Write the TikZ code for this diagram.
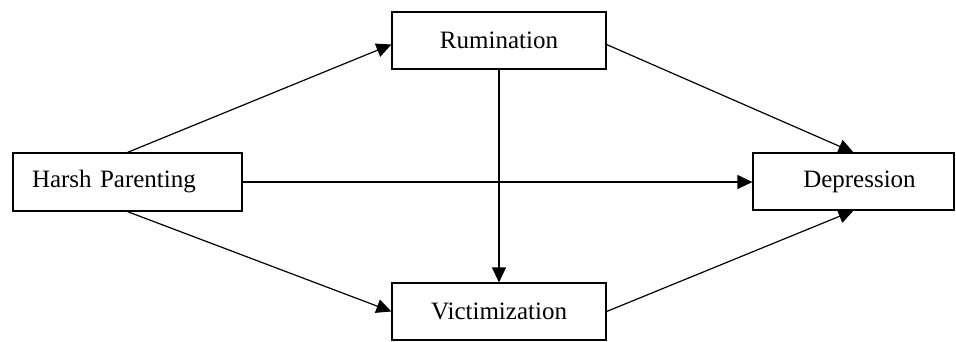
\documentclass[tikz,border=0pt]{standalone}
\usepackage{fontspec}
\setmainfont{Liberation Serif}
\usetikzlibrary{arrows.meta}
\begin{document}
\begin{tikzpicture}[x=1pt,y=-1pt,
  box/.style={draw, line width=1.2pt, rectangle, font=\fontsize{25}{30}\selectfont, inner sep=0pt},
  arr/.style={line width=1.2pt, -{Triangle[length=15pt,width=14pt]}}]
\useasboundingbox (0,0) rectangle (956,341);
\node[box, minimum width=229pt, minimum height=58pt, text width=191pt, inner xsep=19pt, align=left] (h) at (127.5,182) {Harsh Parenting};
\node[box, minimum width=214pt, minimum height=57pt] (r) at (499,40.5) {Rumination};
\node[box, minimum width=214pt, minimum height=57pt] (v) at (499,311.5) {Victimization};
\node[box, minimum width=201pt, minimum height=57pt, text width=201pt, align=center] (d) at (853.5,181.5) {\hspace*{12pt}Depression};
\draw[arr] (h.north) -- ([yshift=-4pt]r.west);
\draw[arr] (h.south) -- (v.west);
\draw[arr] (h.east) -- (h.east -| d.west);
\draw[arr] (r.south) -- (v.north);
\draw[arr] ([yshift=-4pt]r.east) -- (d.north);
\draw[arr] (v.east) -- (d.south);
\end{tikzpicture}
\end{document}
